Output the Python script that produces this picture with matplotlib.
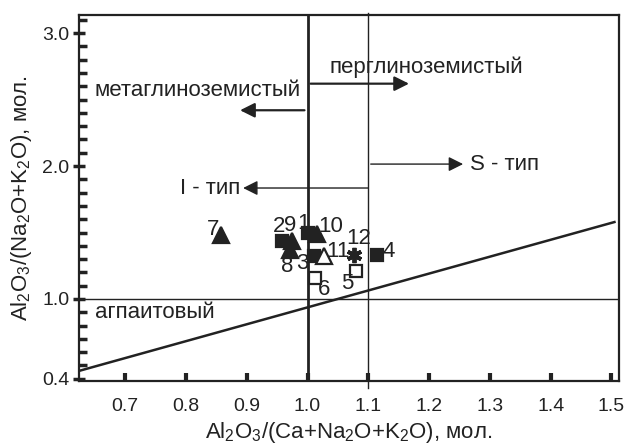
import matplotlib
matplotlib.use('Agg')
import matplotlib.pyplot as plt
import numpy as np

plt.rcParams['font.family'] = ['Liberation Sans', 'DejaVu Sans']
plt.rcParams['mathtext.default'] = 'regular'

ink = '#222222'

# points: ACNK, ANK, marker, filled, label
acnk = [1.000, 0.958, 1.010, 1.115, 1.079, 1.012, 0.857, 0.971, 0.974, 1.016, 1.027, 1.076]
ank = [1.50, 1.44, 1.32, 1.33, 1.21, 1.16, 1.48, 1.37, 1.44, 1.49, 1.32, 1.33]
markers = ['s', 's', 's', 's', 's', 's', '^', '^', '^', '^', '^', '*']
filled = [True, True, True, True, False, False, True, True, True, True, False, True]
labels = ['1', '2', '3', '4', '5', '6', '7', '8', '9', '10', '11', '12']
# label positions (data)
lab_x = [0.993, 0.953, 0.991, 1.134, 1.065, 1.027, 0.844, 0.967, 0.972, 1.038, 1.050, 1.084]
lab_y = [1.571, 1.544, 1.268, 1.356, 1.118, 1.068, 1.526, 1.243, 1.556, 1.549, 1.356, 1.456]

# diagonal boundary line
diag_x = [0.624, 1.505]
diag_y = [0.459, 1.579]

fig = plt.figure(figsize=(6.29, 4.45), dpi=100)
ax = fig.add_axes([0.1256, 0.1438, 0.859, 0.822])
ax.set_xlim(0.624, 1.513)
ax.set_ylim(0.383, 3.135)

for s in ax.spines.values():
    s.set_linewidth(1.6)
    s.set_color(ink)

ax.set_xticks(np.arange(0.7, 1.51, 0.1))
ax.set_xticklabels(['0.7', '0.8', '0.9', '1.0', '1.1', '1.2', '1.3', '1.4', '1.5'])
ax.set_yticks([0.4, 1.0, 2.0, 3.0])
ax.set_yticklabels(['0.4', '1.0', '2.0', '3.0'])
ax.set_yticks(np.arange(0.5, 3.11, 0.1), minor=True)
ax.tick_params(axis='x', direction='in', length=6, width=3, color=ink, labelsize=14, pad=12, labelcolor=ink)
ax.tick_params(axis='y', which='major', direction='inout', length=8, width=2.5, color=ink, labelsize=14, pad=3, labelcolor=ink)
ax.tick_params(axis='y', which='minor', direction='in', length=6, width=2.5, color=ink)

# boundary lines
ax.axvline(1.0, color=ink, lw=2.0)
ax.axvline(1.1, ymin=-0.02, ymax=1.005, color=ink, lw=1.0, clip_on=False)
ax.axhline(1.0, color=ink, lw=1.0)
ax.plot(diag_x, diag_y, color=ink, lw=1.8)

# arrows
ap = dict(arrowstyle='-|>', color=ink, lw=1.6, mutation_scale=22, shrinkA=0, shrinkB=0)
ax.annotate('', xy=(0.889, 2.42), xytext=(0.995, 2.42), arrowprops=ap)
ax.annotate('', xy=(1.167, 2.62), xytext=(1.005, 2.62), arrowprops=ap)
ax.annotate('', xy=(0.894, 1.835), xytext=(1.100, 1.835), arrowprops=dict(ap, lw=1.0))
ax.annotate('', xy=(1.256, 2.015), xytext=(1.104, 2.015), arrowprops=dict(ap, lw=1.0))

fs = 16
ax.text(0.819, 2.57, 'метаглиноземистый', ha='center', va='center', fontsize=fs, color=ink)
ax.text(1.036, 2.74, 'перглиноземистый', ha='left', va='center', fontsize=fs, color=ink)
ax.text(0.889, 1.835, 'I - тип', ha='right', va='center', fontsize=fs, color=ink)
ax.text(1.268, 2.015, 'S - тип', ha='left', va='center', fontsize=fs, color=ink)
ax.text(0.651, 0.895, 'агпаитовый', ha='left', va='center', fontsize=fs, color=ink)

for x, y, m, f in zip(acnk, ank, markers, filled):
    if m == '*':
        ax.plot(x, y, marker=(6, 2, 0), ms=11, mew=2.8, color=ink, ls='none')
    elif m == '^':
        ax.plot(x, y, marker=m, ms=11, mfc=ink if f else 'white', mec=ink, mew=1.6, ls='none')
    else:
        ax.plot(x, y, marker=m, ms=8, mfc=ink if f else 'white', mec=ink, mew=1.6, ls='none')

for t, x, y in zip(labels, lab_x, lab_y):
    ax.text(x, y, t, ha='center', va='center', fontsize=fs, color=ink)

ax.set_xlabel('Al$_2$O$_3$/(Ca+Na$_2$O+K$_2$O), мол.', fontsize=16, color=ink, labelpad=4)
ax.set_ylabel('Al$_2$O$_3$/(Na$_2$O+K$_2$O), мол.', fontsize=16, color=ink, labelpad=6)

fig.savefig('out.png', dpi=100)
